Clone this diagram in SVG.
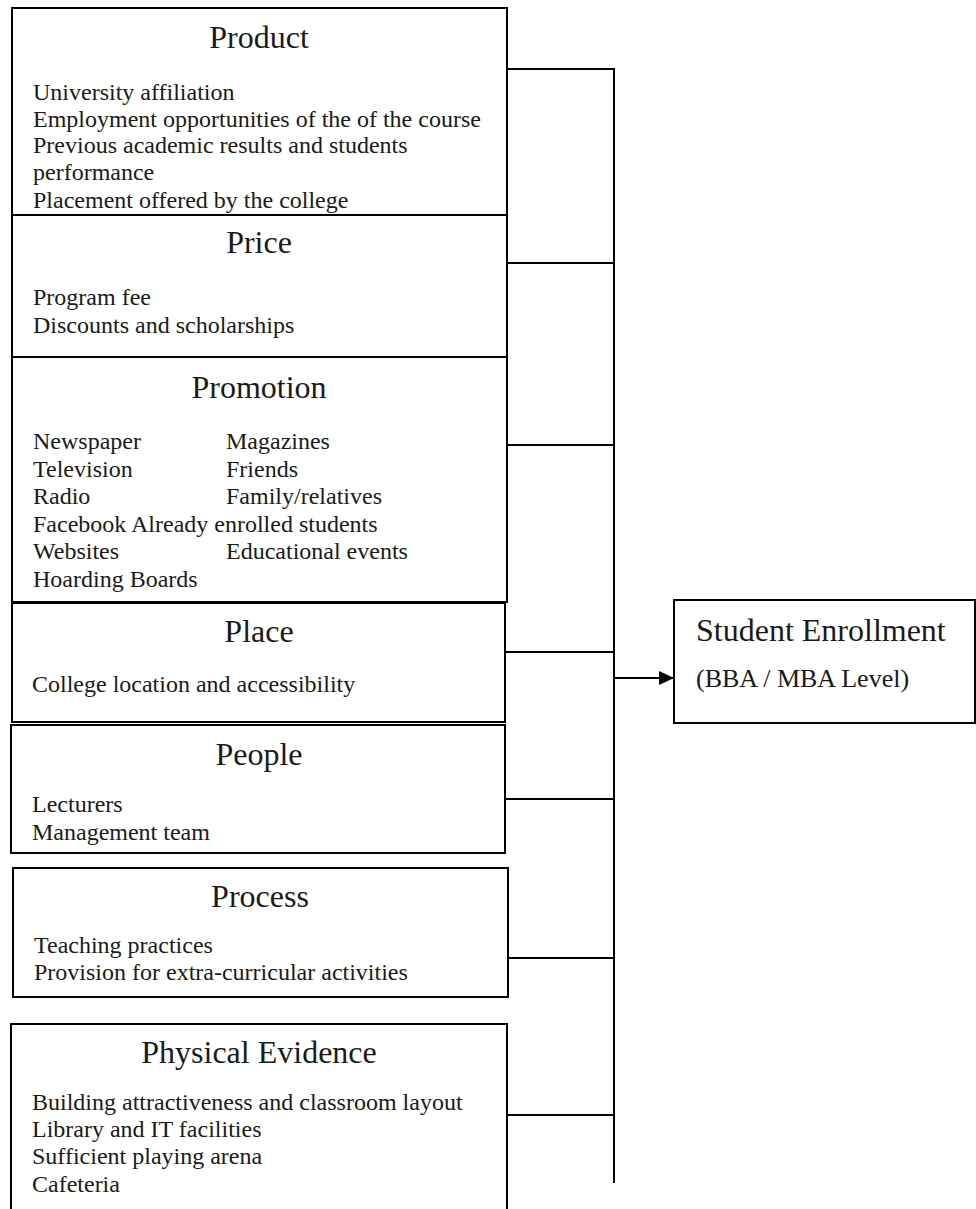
<svg xmlns="http://www.w3.org/2000/svg" width="976" height="1209" viewBox="0 0 976 1209">
<style>
.box{fill:#fff;stroke:#000;stroke-width:2}
.t{font-family:"Liberation Serif","Times New Roman",serif;font-size:32px;fill:#1a1a1a;text-anchor:middle}
.b{font-family:"Liberation Serif","Times New Roman",serif;font-size:24px;fill:#1a1a1a}
.c{fill:none;stroke:#000;stroke-width:2}
</style>
<defs>
<marker id="arr" markerWidth="15" markerHeight="14" refX="15" refY="7" orient="auto" markerUnits="userSpaceOnUse">
<path d="M0,0 L15,7 L0,14 Z" fill="#000"/>
</marker>
</defs>
<rect width="976" height="1209" fill="#fff"/>
<g id="connectors">
<line class="c" x1="614" y1="69" x2="614" y2="1183"/>
<line class="c" x1="507" y1="69" x2="615" y2="69"/>
<line class="c" x1="507" y1="263" x2="614" y2="263"/>
<line class="c" x1="507" y1="445" x2="614" y2="445"/>
<line class="c" x1="505" y1="652" x2="614" y2="652"/>
<line class="c" x1="505" y1="799" x2="614" y2="799"/>
<line class="c" x1="508" y1="958" x2="614" y2="958"/>
<line class="c" x1="507" y1="1115" x2="614" y2="1115"/>
<line class="c" x1="614" y1="678" x2="674" y2="678" marker-end="url(#arr)"/>
</g>
<g id="product">
<rect class="box" x="12" y="8" width="495" height="207"/>
<text class="t" x="259" y="48">Product</text>
<text class="b" x="33" y="100">University affiliation</text>
<text class="b" x="33" y="127">Employment opportunities of the of the course</text>
<text class="b" x="33" y="153">Previous academic results and students</text>
<text class="b" x="33" y="180">performance</text>
<text class="b" x="33" y="208">Placement offered by the college</text>
</g>
<g id="price">
<rect class="box" x="12" y="215" width="495" height="142"/>
<text class="t" x="259" y="253">Price</text>
<text class="b" x="33" y="305">Program fee</text>
<text class="b" x="33" y="333">Discounts and scholarships</text>
</g>
<g id="promotion">
<rect class="box" x="12" y="357" width="495" height="245"/>
<text class="t" x="259" y="398">Promotion</text>
<text class="b" x="33" y="449">Newspaper</text>
<text class="b" x="226" y="449">Magazines</text>
<text class="b" x="33" y="477">Television</text>
<text class="b" x="226" y="477">Friends</text>
<text class="b" x="33" y="504">Radio</text>
<text class="b" x="226" y="504">Family/relatives</text>
<text class="b" x="33" y="532">Facebook Already enrolled students</text>
<text class="b" x="33" y="559">Websites</text>
<text class="b" x="226" y="559">Educational events</text>
<text class="b" x="33" y="587">Hoarding Boards</text>
</g>
<g id="place">
<rect class="box" x="12" y="603" width="493" height="119"/>
<text class="t" x="259" y="642">Place</text>
<text class="b" x="32" y="692">College location and accessibility</text>
</g>
<g id="people">
<rect class="box" x="11" y="725" width="494" height="128"/>
<text class="t" x="259" y="765">People</text>
<text class="b" x="32" y="812">Lecturers</text>
<text class="b" x="32" y="840">Management team</text>
</g>
<g id="process">
<rect class="box" x="13" y="868" width="495" height="129"/>
<text class="t" x="260" y="907">Process</text>
<text class="b" x="34" y="953">Teaching practices</text>
<text class="b" x="34" y="980">Provision for extra-curricular activities</text>
</g>
<g id="physical-evidence">
<path class="box" d="M11,1209 L11,1024 L507,1024 L507,1209"/>
<text class="t" x="259" y="1063">Physical Evidence</text>
<text class="b" x="32" y="1110">Building attractiveness and classroom layout</text>
<text class="b" x="32" y="1137">Library and IT facilities</text>
<text class="b" x="32" y="1164">Sufficient playing arena</text>
<text class="b" x="32" y="1192">Cafeteria</text>
</g>
<g id="student-enrollment">
<rect class="box" x="674" y="600" width="301" height="123"/>
<text class="t" x="696" y="641" style="text-anchor:start">Student Enrollment</text>
<text class="b" x="696" y="687" style="font-size:26px">(BBA / MBA Level)</text>
</g>
</svg>
